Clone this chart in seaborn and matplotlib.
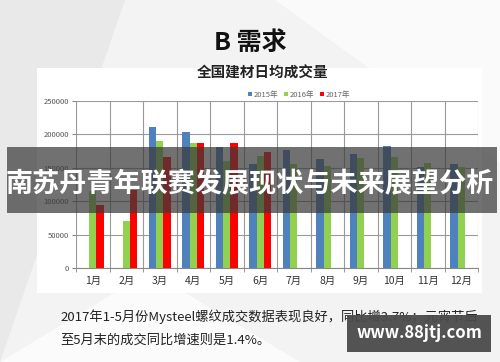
import numpy as np
import pandas as pd
import matplotlib
matplotlib.use("Agg")
import matplotlib.pyplot as plt
from matplotlib.patches import Rectangle, Polygon
import seaborn as sns

# data
months = ['1月', '2月', '3月', '4月', '5月', '6月', '7月', '8月', '9月', '10月', '11月', '12月']
years = ['2015年', '2016年', '2017年']
v2015 = [np.nan, np.nan, 211000, 203000, 181000, 156000, 177000, 163000, 171000, 183000, 151000, 156000]
v2016 = [115000, 70000, 190000, 187000, 160000, 167000, 156000, 153000, 165000, 166000, 157000, 151000]
v2017 = [94000, 117000, 166000, 187000, 187000, 174000, np.nan, np.nan, np.nan, np.nan, np.nan, np.nan]
yticks = [0, 50000, 100000, 150000, 200000, 250000]
colors = ['#4F81BD', '#92D050', '#FF0000']

df = pd.DataFrame({
    'month': months * 3,
    'year': [y for y in years for _ in months],
    'value': v2015 + v2016 + v2017,
}).dropna()

sns.set_style("white")
plt.rcParams['font.family'] = ['Noto Sans CJK SC', 'DejaVu Sans']

fig = plt.figure(figsize=(5, 3.62), dpi=100, facecolor='#f3f3f3')

# faint slide background shapes
for pts, c in [([(0, 0), (0.25, 1), (0, 1)], '#e9e9e9'),
               ([(0.55, 1), (1, 1), (1, 0.55)], '#fafafa'),
               ([(0, 0), (0.6, 0), (0.3, 0.25)], '#fbfbfb')]:
    fig.patches.append(Polygon(pts, closed=True, transform=fig.transFigure,
                               facecolor=c, edgecolor='none', zorder=-3))

# white chart box
fig.patches.append(Rectangle((37 / 500, 1 - 293 / 362), 445 / 500, 225 / 362,
                             transform=fig.transFigure, facecolor='white',
                             edgecolor='none', zorder=-2))

fig.text(0.5, 1 - 43 / 362, 'B 需求', ha='center', va='center',
         fontsize=18, fontweight='bold', color='#111111')

ax = fig.add_axes([76 / 500, 1 - 268 / 362, 402 / 500, 167 / 362])
ax.set_facecolor('none')
sns.barplot(data=df, x='month', y='value', hue='year', order=months,
            hue_order=years, palette=colors, width=0.65, errorbar=None,
            saturation=1, linewidth=0, ax=ax, zorder=3)

ax.set_xlim(-0.5, 11.5)
ax.set_ylim(0, 250000)
ax.set_yticks(yticks)
ax.set_yticklabels([str(t) for t in yticks], fontsize=5.5, color='#555555')
ax.set_xticks(range(12))
ax.set_xticklabels(months, fontsize=7.5, color='#333333')
ax.set_xticks(np.arange(-0.5, 12, 1), minor=True)
ax.grid(which='minor', axis='x', color='#9a9a9a', linewidth=0.8, zorder=0)
ax.grid(which='major', axis='y', color='#9a9a9a', linewidth=0.8, zorder=0)
ax.tick_params(axis='x', which='major', length=0, pad=6)
ax.tick_params(axis='x', which='minor', length=3, color='#888888', direction='out', bottom=True)
ax.tick_params(axis='y', length=3, color='#888888', direction='out', left=True, pad=2)
for s in ['top', 'right', 'left']:
    ax.spines[s].set_visible(False)
ax.spines['bottom'].set_color('#888888')
ax.set_xlabel('')
ax.set_ylabel('')
ax.set_title('全国建材日均成交量', fontsize=10.5, fontweight='bold',
             color='#222222', x=0.465, pad=17)
sns.move_legend(ax, 'center', bbox_to_anchor=(0.555, 1.036), ncol=3,
                frameon=False, fontsize=5.5, handlelength=0.5, handleheight=0.5,
                handletextpad=0.2, columnspacing=0.8, title=None,
                labelcolor='#666666')

# text below the chart
fig.text(60 / 500, 1 - 317 / 362, '2017年1-5月份Mysteel螺纹成交数据表现良好，同比增3.7%；元宵节后',
         fontsize=9.5, color='#222222', va='center', ha='left')
fig.text(60 / 500, 1 - 340 / 362, '至5月末的成交同比增速则是1.4%。',
         fontsize=9.5, color='#222222', va='center', ha='left')

# overlay banner
fig.patches.append(Rectangle((7 / 500, 1 - 213 / 362), 490 / 500, 66 / 362,
                             transform=fig.transFigure, facecolor='#3a3a3a',
                             alpha=0.72, edgecolor='none', zorder=10))
fig.text(0.5, 1 - 184 / 362, '南苏丹青年联赛发展现状与未来展望分析', ha='center',
         va='center', fontsize=19.5, fontweight='bold', color='white', zorder=11)

# watermark
fig.patches.append(Rectangle((347 / 500, 1 - 352 / 362), 144 / 500, 37 / 362,
                             transform=fig.transFigure, facecolor='#4a4a4a',
                             alpha=0.95, edgecolor='none', zorder=10))
fig.text(419 / 500, 1 - 333 / 362, 'www.88jtj.com', ha='center', va='center',
         fontsize=12, fontweight='bold', color='white', zorder=11)

fig.savefig('out.png', dpi=100, facecolor=fig.get_facecolor())
